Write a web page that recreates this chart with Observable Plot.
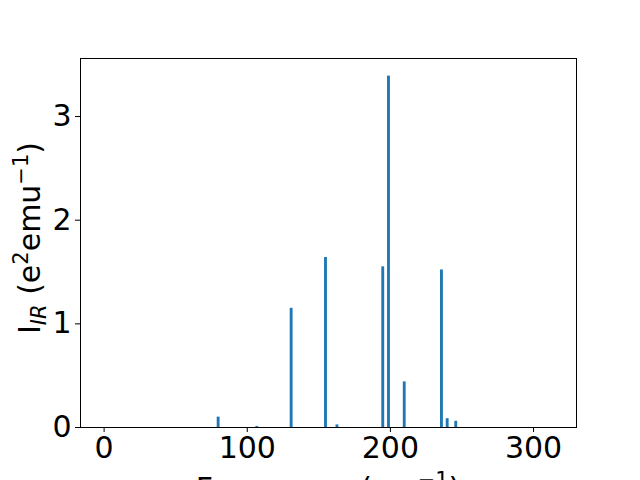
<!DOCTYPE html>
<html>
<head>
<meta charset="utf-8">
<script src="https://cdn.jsdelivr.net/npm/d3@7"></script>
<script src="https://cdn.jsdelivr.net/npm/@observablehq/plot@0.6"></script>
<style>
  html, body { margin: 0; padding: 0; background: white; }
</style>
</head>
<body>
<div id="chart"></div>
<script>
const frequencies = [80, 107, 131, 155, 163, 195, 199, 210, 236, 240, 246];
const intensities = [0.10, 0.01, 1.15, 1.64, 0.025, 1.55, 3.39, 0.44, 1.52, 0.085, 0.06];
const xTicks = [0, 100, 200, 300];
const yTicks = [0, 1, 2, 3];
const barWidth = 2;

const data = frequencies.map((f, i) => ({f, v: intensities[i]}));

const chart = Plot.plot({
  width: 640,
  height: 480,
  marginLeft: 80,
  marginRight: 64,
  marginTop: 58,
  marginBottom: 53,
  style: {fontFamily: "DejaVu Sans", fontSize: "30px", background: "white", color: "black", overflow: "hidden"},
  x: {domain: [-16.5, 330]},
  y: {domain: [0, 3.56]},
  marks: [
    Plot.rectY(data, {x1: d => d.f - barWidth / 2, x2: d => d.f + barWidth / 2, y1: 0, y2: "v", fill: "#1f77b4"}),
    Plot.frame({stroke: "black", strokeWidth: 1}),
    Plot.axisX({ticks: xTicks, tickSize: 5, tickPadding: 4, fontSize: 30, label: null, tickFormat: d => String(d)}),
    Plot.axisY({ticks: yTicks, tickSize: 5, tickPadding: 4, fontSize: 30, label: null, tickFormat: d => String(d)})
  ]
});

const svg = d3.select(chart);
// x label (mostly cut off at bottom as in reference)
const xl = svg.append("text")
  .attr("x", 328).attr("y", 499)
  .attr("text-anchor", "middle")
  .attr("font-family", "DejaVu Sans").attr("font-size", 30).attr("fill", "black");
xl.append("tspan").text("Frequency (cm");
xl.append("tspan").attr("dy", -12).attr("font-size", 21).text("\u22121");
xl.append("tspan").attr("dy", 12).text(")");

// y label
const yl = svg.append("text")
  .attr("transform", "translate(40,238) rotate(-90)")
  .attr("text-anchor", "middle")
  .attr("font-family", "DejaVu Sans").attr("font-size", 30).attr("fill", "black");
yl.append("tspan").text("I");
yl.append("tspan").attr("dy", 6).attr("font-size", 21).attr("font-style", "italic").text("IR");
yl.append("tspan").attr("dy", -6).text(" (e");
yl.append("tspan").attr("dy", -12).attr("font-size", 21).text("2");
yl.append("tspan").attr("dy", 12).text("emu");
yl.append("tspan").attr("dy", -12).attr("font-size", 21).text("\u22121");
yl.append("tspan").attr("dy", 12).text(")");

document.getElementById("chart").appendChild(chart);
</script>
</body>
</html>
